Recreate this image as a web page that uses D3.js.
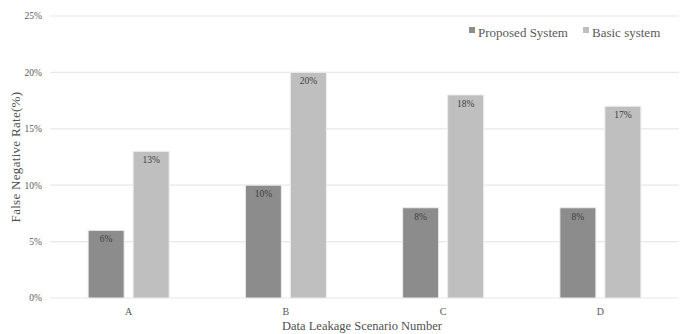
<!DOCTYPE html>
<html>
<head>
<meta charset="utf-8">
<script src="https://cdn.jsdelivr.net/npm/d3@7"></script>
<style>
  body { margin: 0; background: #fff; }
  text { font-family: "Liberation Serif", "Times New Roman", serif; }
</style>
</head>
<body>
<div id="chart"></div>
<script>
const categories = ["A", "B", "C", "D"];
const seriesNames = ["Proposed System", "Basic system"];
const proposedValues = [6, 10, 8, 8];
const basicValues = [13, 20, 18, 17];
const yTicks = [0, 5, 10, 15, 20, 25];

const colors = ["#8c8c8c", "#bfbfbf"];
const width = 680, height = 334;
const margin = {top: 16, right: 1, bottom: 36, left: 50};

const svg = d3.select("#chart").append("svg")
    .attr("width", width)
    .attr("height", height);

const x0 = d3.scaleBand()
    .domain(categories)
    .range([margin.left, width - margin.right]);

const x1 = d3.scaleBand()
    .domain(seriesNames)
    .range([x0.bandwidth() / 2 - 40.5, x0.bandwidth() / 2 + 40.5])
    .paddingInner(0.2);

const y = d3.scaleLinear()
    .domain([0, 25])
    .range([height - margin.bottom, margin.top]);

// gridlines
svg.append("g")
    .selectAll("line")
    .data(yTicks)
    .enter().append("line")
    .attr("x1", margin.left)
    .attr("x2", width - margin.right)
    .attr("y1", d => y(d))
    .attr("y2", d => y(d))
    .attr("stroke", "#e8e8e8")
    .attr("stroke-width", 1.2);

// y tick labels
svg.append("g")
    .selectAll("text")
    .data(yTicks)
    .enter().append("text")
    .attr("x", margin.left - 8)
    .attr("y", d => y(d))
    .attr("dy", "0.35em")
    .attr("text-anchor", "end")
    .attr("font-size", 9.5)
    .attr("fill", "#595959")
    .text(d => d + "%");

const rows = categories.map((c, i) => ({
    cat: c,
    vals: [
        {name: seriesNames[0], v: proposedValues[i], k: 0},
        {name: seriesNames[1], v: basicValues[i], k: 1}
    ]
}));

const groups = svg.append("g")
    .selectAll("g")
    .data(rows)
    .enter().append("g")
    .attr("transform", d => "translate(" + x0(d.cat) + ",0)");

groups.selectAll("rect")
    .data(d => d.vals)
    .enter().append("rect")
    .attr("x", d => x1(d.name))
    .attr("width", x1.bandwidth())
    .attr("y", d => y(d.v))
    .attr("height", d => y(0) - y(d.v))
    .attr("fill", d => colors[d.k])
    .attr("stroke", "#ececec")
    .attr("stroke-width", 1);

groups.selectAll("text.val")
    .data(d => d.vals)
    .enter().append("text")
    .attr("class", "val")
    .attr("x", d => x1(d.name) + x1.bandwidth() / 2)
    .attr("y", d => y(d.v) + 12)
    .attr("text-anchor", "middle")
    .attr("font-size", 9.5)
    .attr("fill", "#404040")
    .text(d => d.v + "%");

// category labels
svg.append("g")
    .selectAll("text")
    .data(categories)
    .enter().append("text")
    .attr("x", d => x0(d) + x0.bandwidth() / 2)
    .attr("y", y(0) + 17)
    .attr("text-anchor", "middle")
    .attr("font-size", 10)
    .attr("fill", "#595959")
    .text(d => d);

// axis titles
svg.append("text")
    .attr("x", 362)
    .attr("y", 330)
    .attr("text-anchor", "middle")
    .attr("font-size", 12.5)
    .attr("fill", "#505050")
    .text("Data Leakage Scenario Number");

svg.append("text")
    .attr("transform", "translate(20," + ((margin.top + height - margin.bottom) / 2) + ") rotate(-90)")
    .attr("text-anchor", "middle")
    .attr("font-size", 13)
    .attr("fill", "#505050")
    .attr("letter-spacing", 0.3)
    .text("False Negative Rate(%)");

// legend
const legendX = [469, 583];
const legend = svg.append("g")
    .selectAll("g")
    .data(seriesNames)
    .enter().append("g")
    .attr("transform", (d, i) => "translate(" + legendX[i] + ",32)");

legend.append("rect")
    .attr("x", 0)
    .attr("y", -5)
    .attr("width", 6)
    .attr("height", 6)
    .attr("fill", (d, i) => colors[i]);

legend.append("text")
    .attr("x", 9)
    .attr("y", 0)
    .attr("dy", "0.35em")
    .attr("font-size", 13)
    .attr("fill", "#595959")
    .text(d => d);
</script>
</body>
</html>
